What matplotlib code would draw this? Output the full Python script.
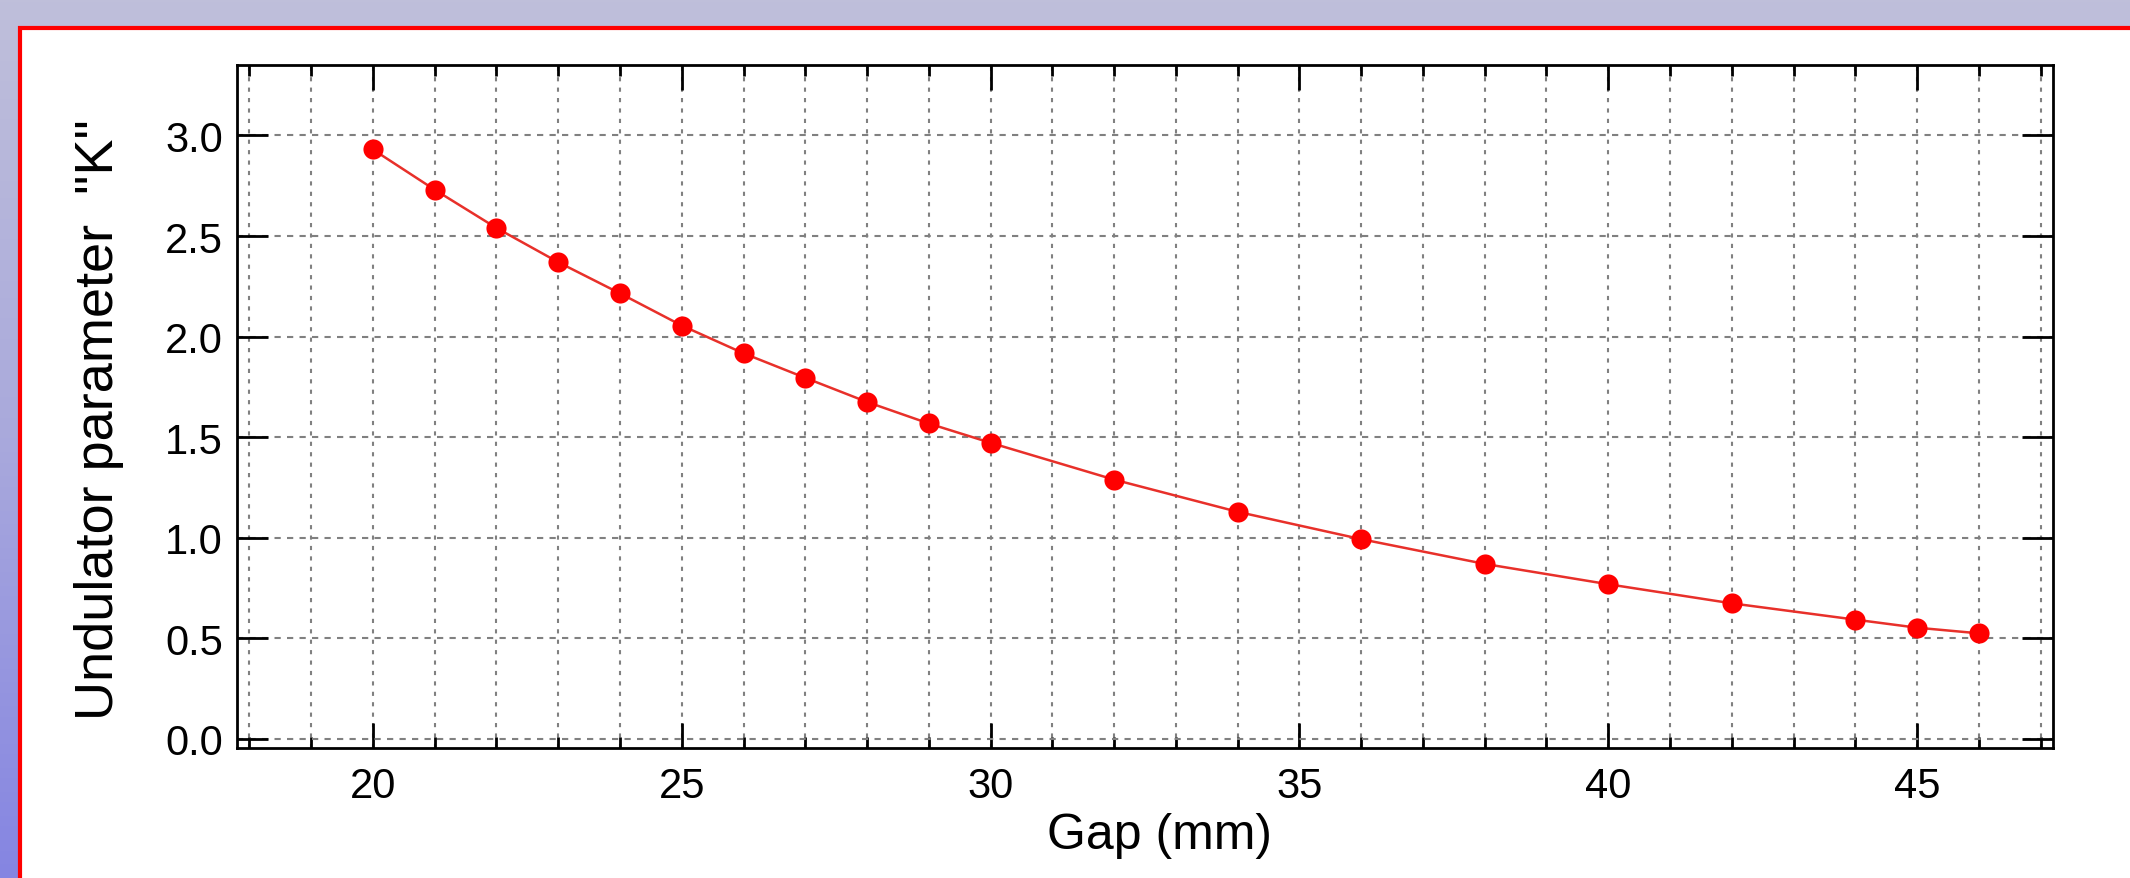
import numpy as np
import matplotlib
matplotlib.use('Agg')
import matplotlib.pyplot as plt
from matplotlib.patches import Rectangle
from matplotlib.colors import LinearSegmentedColormap
from matplotlib.ticker import MultipleLocator

plt.rcParams['font.family'] = ['Liberation Sans', 'DejaVu Sans']

# Data
gap_mm = [20, 21, 22, 23, 24, 25, 26, 27, 28, 29, 30, 32, 34, 36, 38, 40, 42, 44, 45, 46]
k_param = [2.93, 2.73, 2.54, 2.37, 2.215, 2.055, 1.917, 1.795, 1.675, 1.568, 1.472,
           1.289, 1.129, 0.993, 0.870, 0.769, 0.674, 0.593, 0.553, 0.525]
x_ticks = [20, 25, 30, 35, 40, 45]
y_ticks = [0.0, 0.5, 1.0, 1.5, 2.0, 2.5, 3.0]

W, H, DPI = 2130, 879, 100
fig = plt.figure(figsize=(W / DPI, H / DPI), dpi=DPI)

# lavender gradient background
bg = fig.add_axes([0, 0, 1, 1], zorder=0)
cmap = LinearSegmentedColormap.from_list('bg', ['#bfbfda', '#a9a9dc', '#8585e2'])
grad = np.linspace(0, 1, 256).reshape(-1, 1)
bg.imshow(grad, aspect='auto', cmap=cmap, extent=[0, 1, 0, 1], origin='upper')
bg.set_xlim(0, 1)
bg.set_ylim(0, 1)
bg.axis('off')

# white panel with red frame
px0, py_top = 20 / W, 1 - 29 / H
bg.add_patch(Rectangle((px0, -0.01), 1.02 - px0, py_top + 0.01, facecolor='white',
                       edgecolor='#ff0000', linewidth=3, zorder=2))

ax = fig.add_axes([237 / W, 1 - 749 / H, (2053 - 237) / W, (749 - 66) / H], zorder=1)
ax.set_facecolor('white')

ax.plot(gap_mm, k_param, color='#e8302a', linewidth=1.8, zorder=3)
ax.plot(gap_mm, k_param, linestyle='none', marker='o', markersize=14.5,
        color='#ff0000', markeredgewidth=0, zorder=4)

ax.set_xlim(17.8, 47.2)
ax.set_ylim(-0.045, 3.35)
ax.set_xticks(x_ticks)
ax.xaxis.set_minor_locator(MultipleLocator(1))
ax.set_yticks(y_ticks)
ax.set_yticklabels([f'{v:.1f}' for v in y_ticks])

ax.grid(which='minor', axis='x', color='#808080', linestyle=(0, (2, 3)), linewidth=1.5)
ax.grid(which='major', axis='x', color='#808080', linestyle=(0, (2, 3)), linewidth=1.5)
ax.grid(which='major', axis='y', color='#808080', linestyle=(0, (3, 3)), linewidth=1.5)
ax.set_axisbelow(True)

ax.tick_params(which='both', direction='in', top=True, right=True, width=2, colors='black')
ax.tick_params(axis='x', which='major', length=18, labelsize=30, pad=13)
ax.tick_params(axis='x', which='minor', length=8)
ax.tick_params(axis='y', which='major', length=22, labelsize=30, pad=10)
for sp in ax.spines.values():
    sp.set_linewidth(2)

ax.set_xlabel('Gap (mm)', fontsize=36, va='center')
ax.xaxis.set_label_coords(0.508, -0.127)
ax.set_ylabel('Undulator parameter  "K"', fontsize=39, va='center')
ax.yaxis.set_label_coords(-0.076, 0.482)

fig.savefig('out.png', dpi=DPI)
